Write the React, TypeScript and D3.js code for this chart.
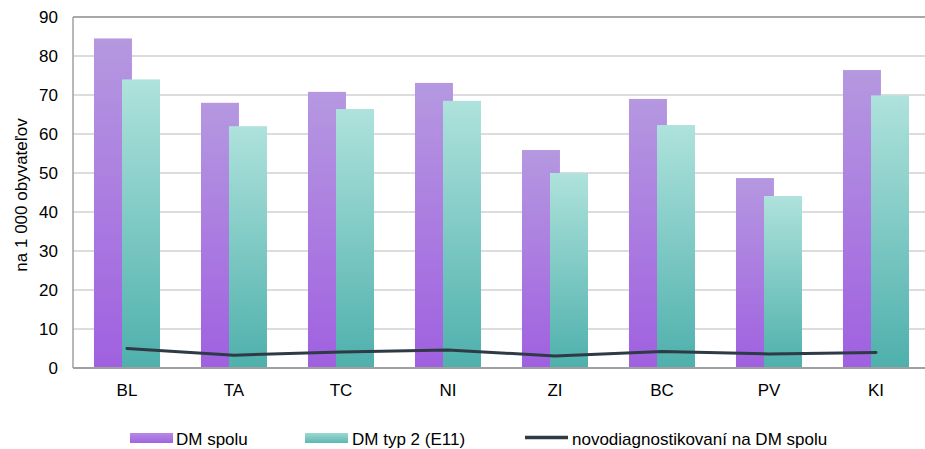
import React from "react";
import * as d3 from "d3";

const categories = ["BL", "TA", "TC", "NI", "ZI", "BC", "PV", "KI"];
const dmSpolu = [84.5, 68.0, 70.8, 73.1, 55.9, 69.0, 48.7, 76.4];
const dmTyp2 = [74.0, 62.0, 66.4, 68.5, 50.0, 62.3, 44.1, 69.9];
const novodiag = [5.0, 3.3, 4.1, 4.6, 3.1, 4.2, 3.6, 4.0];
const yTicks = [0, 10, 20, 30, 40, 50, 60, 70, 80, 90];
const seriesNames = ["DM spolu", "DM typ 2 (E11)", "novodiagnostikovaní na DM spolu"];
const yLabel = "na 1 000 obyvateľov";

const W = 925;
const H = 449;
const left = 73;
const right = 929;
const top = 17;
const bottom = 368;
const font = "'Liberation Sans', Arial, sans-serif";

export default function App() {
  const x = d3.scaleBand<string>().domain(categories).range([left, right]).padding(0);
  const y = d3.scaleLinear().domain([0, 90]).range([bottom, top]);
  const bw = x.bandwidth();
  const barW = bw * 0.355;
  const off1 = bw * 0.196;
  const off2 = off1 + bw * 0.262;
  const groupCenter = (c: string) => (x(c) as number) + off1 + (off2 + barW - off1) / 2;
  const line = d3
    .line<number>()
    .x((_, i) => groupCenter(categories[i]))
    .y((d) => y(d))
    .curve(d3.curveLinear);

  return (
    <div style={{ position: "absolute", left: 0, top: 0 }}>
      <svg width={W} height={H} style={{ display: "block", background: "#fff" }}>
        <defs>
          <linearGradient id="gP" x1="0" y1="0" x2="0" y2="1">
            <stop offset="0%" stopColor="#b598e0" />
            <stop offset="100%" stopColor="#a060e0" />
          </linearGradient>
          <linearGradient id="gT" x1="0" y1="0" x2="0" y2="1">
            <stop offset="0%" stopColor="#afe2dc" />
            <stop offset="100%" stopColor="#4eb0ac" />
          </linearGradient>
          <linearGradient id="gPL" x1="0" y1="0" x2="0" y2="1">
            <stop offset="0%" stopColor="#b58ae2" />
            <stop offset="100%" stopColor="#a065e0" />
          </linearGradient>
          <linearGradient id="gTL" x1="0" y1="0" x2="0" y2="1">
            <stop offset="0%" stopColor="#9ed8d2" />
            <stop offset="100%" stopColor="#5cb8b2" />
          </linearGradient>
        </defs>

        {yTicks.map((t) =>
          t === 0 ? null : (
            <line
              key={"g" + t}
              x1={left}
              x2={W}
              y1={y(t)}
              y2={y(t)}
              stroke={t === 90 ? "#a8a8a8" : "#d0d0d0"}
              strokeWidth={t === 90 ? 2 : 1.5}
            />
          )
        )}
        <line x1={left} x2={left} y1={top} y2={bottom} stroke="#a0a0a0" strokeWidth={1.5} />

        {categories.map((c, i) => (
          <g key={c}>
            <rect x={(x(c) as number) + off1} y={y(dmSpolu[i])} width={barW} height={bottom - y(dmSpolu[i])} fill="url(#gP)" />
            <rect x={(x(c) as number) + off2} y={y(dmTyp2[i])} width={barW} height={bottom - y(dmTyp2[i])} fill="url(#gT)" />
          </g>
        ))}

        <line x1={left} x2={W} y1={bottom} y2={bottom} stroke="#a0a0a0" strokeWidth={2} />

        <path d={line(novodiag) || ""} fill="none" stroke="#2e3a46" strokeWidth={3} strokeLinejoin="round" strokeLinecap="round" />

        {yTicks.map((t) => (
          <text key={"t" + t} x={58} y={y(t)} dy="0.35em" textAnchor="end" fontFamily={font} fontSize={17} fill="#000">
            {t}
          </text>
        ))}

        {categories.map((c) => (
          <text key={"c" + c} x={groupCenter(c)} y={396} textAnchor="middle" fontFamily={font} fontSize={17} fill="#000">
            {c}
          </text>
        ))}

        <text transform="translate(27,195) rotate(-90)" textAnchor="middle" fontFamily={font} fontSize={17} fill="#000">
          {yLabel}
        </text>

        <g fontFamily={font} fontSize={17} fill="#000">
          <rect x={130} y={433} width={43} height={10} fill="url(#gPL)" />
          <text x={176} y={445}>{seriesNames[0]}</text>
          <rect x={305} y={433} width={43} height={10} fill="url(#gTL)" />
          <text x={352} y={445}>{seriesNames[1]}</text>
          <line x1={525} x2={568} y1={437.5} y2={437.5} stroke="#2e3a46" strokeWidth={3.5} />
          <text x={572} y={445}>{seriesNames[2]}</text>
        </g>
      </svg>
    </div>
  );
}
